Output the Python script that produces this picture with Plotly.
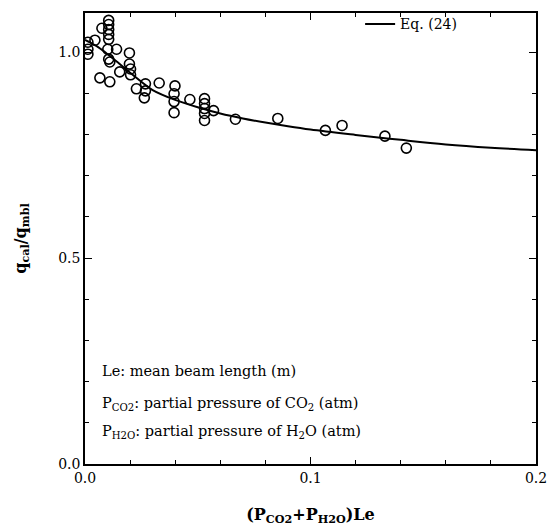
import plotly.graph_objects as go

# Measured data points (x = (P_CO2+P_H2O)Le, y = q_cal/q_mbl)
pts_x = [0.0013, 0.0013, 0.0013, 0.0044, 0.0075, 0.0105, 0.0105, 0.0105, 0.0105, 0.0105,
         0.0101, 0.0105, 0.011, 0.014, 0.0066, 0.011, 0.0197, 0.0197, 0.0202, 0.0202,
         0.0154, 0.0228, 0.0268, 0.0268, 0.0263, 0.0329, 0.0399, 0.0395, 0.0395, 0.0395,
         0.0465, 0.053, 0.053, 0.053, 0.053, 0.053, 0.057, 0.0667, 0.0855, 0.1066,
         0.114, 0.133, 0.1425]
pts_y = [1.024, 1.007, 0.995, 1.029, 1.058, 1.077, 1.067, 1.055, 1.043, 1.031,
         1.007, 0.983, 0.976, 1.007, 0.9375, 0.928, 0.998, 0.971, 0.959, 0.945,
         0.952, 0.911, 0.923, 0.906, 0.889, 0.925, 0.918, 0.899, 0.880, 0.853,
         0.885, 0.887, 0.875, 0.863, 0.851, 0.834, 0.858, 0.837, 0.839, 0.810,
         0.822, 0.796, 0.767]

# Eq. (24) curve
eq_x = [0, 0.005, 0.01, 0.015, 0.02, 0.025, 0.03, 0.04, 0.05, 0.06, 0.07, 0.08, 0.09,
        0.1, 0.12, 0.14, 0.16, 0.18, 0.2]
eq_y = [1.03, 1.015, 0.995, 0.973, 0.950, 0.928, 0.908, 0.884, 0.866, 0.851, 0.839,
        0.829, 0.820, 0.812, 0.799, 0.787, 0.776, 0.768, 0.762]

x_ticks = [0, 0.1, 0.2]
x_labels = ["0.0", "0.1", "0.2"]
y_ticks = [0, 0.5, 1.0]
y_labels = ["0.0", "0.5", "1.0"]

FONT = "DejaVu Serif"

fig = go.Figure()
fig.add_trace(go.Scatter(x=eq_x, y=eq_y, mode="lines", line=dict(color="black", width=2, shape="spline"),
                         name="Eq. (24)", showlegend=True))
fig.add_trace(go.Scatter(x=pts_x, y=pts_y, mode="markers",
                         marker=dict(symbol="circle-open", size=10, color="black", line=dict(width=1.6)),
                         showlegend=False))

axis_common = dict(showline=True, linecolor="black", linewidth=1.5, mirror="ticks", ticks="inside",
                   ticklen=7, tickcolor="black", showgrid=False, zeroline=False,
                   tickfont=dict(family=FONT, size=14, color="black"))

fig.update_xaxes(range=[0, 0.2], tickvals=x_ticks, ticktext=x_labels,
                 minor=dict(dtick=0.02, ticks="inside", ticklen=4, tickcolor="black"),
                 title=dict(text="<b>(P<sub>CO2</sub>+P<sub>H2O</sub>)Le</b>", font=dict(family=FONT, size=16, color="black"),
                            standoff=24),
                 **axis_common)
fig.update_yaxes(range=[0, 1.095], tickvals=y_ticks, ticktext=y_labels,
                 minor=dict(dtick=0.1, ticks="inside", ticklen=4, tickcolor="black"),
                 title=dict(text="<b>q<sub>cal</sub>/q<sub>mbl</sub></b>", font=dict(family=FONT, size=16, color="black"),
                            standoff=28),
                 **axis_common)

notes = ["Le: mean beam length (m)",
         "P<sub>CO2</sub>: partial pressure of CO<sub>2</sub> (atm)",
         "P<sub>H2O</sub>: partial pressure of H<sub>2</sub>O (atm)"]
note_y = [0.206, 0.134, 0.070]
for t, yy in zip(notes, note_y):
    fig.add_annotation(text=t, xref="paper", yref="paper", x=0.033, y=yy, xanchor="left", yanchor="middle",
                       showarrow=False, font=dict(family=FONT, size=14.5, color="black"))

fig.update_layout(
    width=555, height=531,
    margin=dict(l=85, r=14, t=8, b=67),
    paper_bgcolor="white", plot_bgcolor="white",
    legend=dict(x=0.61, y=0.975, xanchor="left", yanchor="middle", bgcolor="rgba(0,0,0,0)",
                font=dict(family=FONT, size=14, color="black")),
)

fig.write_html("out.html")
